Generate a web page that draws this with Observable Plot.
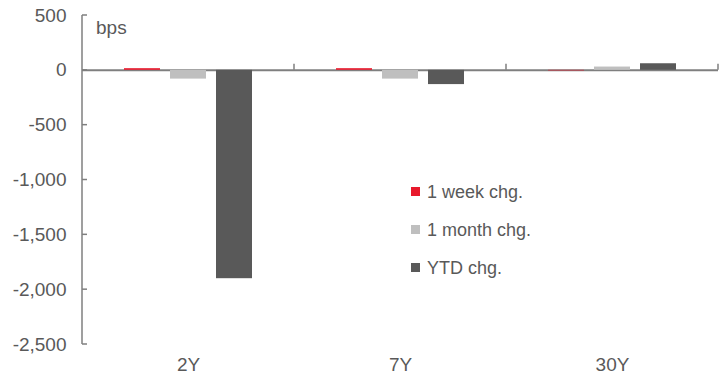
<!DOCTYPE html>
<html>
<head>
<meta charset="utf-8">
<script src="https://cdn.jsdelivr.net/npm/d3@7"></script>
<script src="https://cdn.jsdelivr.net/npm/@observablehq/plot@0.6"></script>
<style>
  html, body { margin: 0; padding: 0; background: #fff; }
  svg { font-family: "Liberation Sans", Arial, sans-serif; }
</style>
</head>
<body>
<div id="chart"></div>
<script>
const categories = ["2Y", "7Y", "30Y"];
const series = ["1 week chg.", "1 month chg.", "YTD chg."];
const weekChg = [15, 15, -5];
const monthChg = [-80, -80, 30];
const ytdChg = [-1900, -130, 60];
const seriesColors = ["#E8192C", "#BFBFBF", "#595959"];
const yTicks = [500, 0, -500, -1000, -1500, -2000, -2500];
const unitLabel = "bps";

const valuesBySeries = [weekChg, monthChg, ytdChg];
const data = [];
categories.forEach((c, i) => {
  series.forEach((s, j) => data.push({cat: c, series: s, value: valuesBySeries[j][i]}));
});

const textColor = "#595959";
const axisColor = "#7F7F7F";
const fontSize = 19;
const legendFontSize = 18;

const plot = Plot.plot({
  width: 727,
  height: 377,
  marginLeft: 82,
  marginRight: 9,
  marginTop: 15,
  marginBottom: 33,
  style: {fontFamily: "Liberation Sans, Arial, sans-serif", fontSize: fontSize + "px", color: textColor, background: "#fff"},
  fx: {domain: categories, padding: 0, label: null, axis: "bottom", tickSize: 0, tickPadding: 13},
  x: {domain: series, axis: null, paddingInner: 0.22, paddingOuter: 0.9},
  y: {domain: [-2500, 500], ticks: yTicks, tickFormat: d => d.toLocaleString("en-US"), tickSize: 0, tickPadding: 16, label: null},
  color: {domain: series, range: seriesColors},
  marks: [
    Plot.ruleY([0], {stroke: axisColor, strokeWidth: 2}),
    Plot.barY(data, {fx: "cat", x: "series", y: "value", fill: "series"})
  ]
});

document.getElementById("chart").appendChild(plot);

const svg = d3.select(plot);
const y = plot.scale("y");
const fx = plot.scale("fx");
const x0 = 82;

// y axis line and inward ticks
const g = svg.append("g").attr("stroke", axisColor).attr("stroke-width", 1.5);
g.append("line").attr("x1", x0).attr("x2", x0).attr("y1", y.apply(500)).attr("y2", y.apply(-2500));
yTicks.forEach(v => {
  g.append("line").attr("x1", x0).attr("x2", x0 + 5).attr("y1", y.apply(v)).attr("y2", y.apply(v));
});
// category boundary ticks on zero line
categories.forEach(c => {
  const xr = fx.apply(c) + fx.bandwidth;
  g.append("line").attr("x1", xr).attr("x2", xr).attr("y1", y.apply(0)).attr("y2", y.apply(0) - 6);
});

// unit label
svg.append("text").attr("x", 96).attr("y", 34).attr("fill", textColor)
  .attr("text-anchor", "start").attr("font-size", fontSize).text(unitLabel);

// legend
const lg = svg.append("g").attr("text-anchor", "start");
series.forEach((s, i) => {
  const cy = 192 + i * 38;
  lg.append("rect").attr("x", 411).attr("y", cy - 5).attr("width", 9).attr("height", 9).attr("fill", seriesColors[i]);
  lg.append("text").attr("x", 427).attr("y", cy).attr("dy", "0.35em").attr("fill", textColor)
    .attr("font-size", legendFontSize).text(s);
});
</script>
</body>
</html>
